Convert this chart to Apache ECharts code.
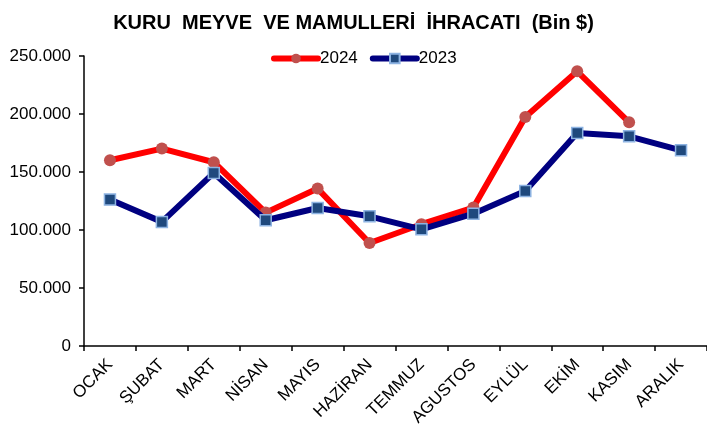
<!DOCTYPE html>
<html><head><meta charset="utf-8">
<script src="https://cdn.jsdelivr.net/npm/echarts@6/dist/echarts.min.js"></script>
<style>html,body{margin:0;padding:0;background:#fff}#c{width:707px;height:436px}</style>
</head><body><div id="c"></div>
<script>
const titleText = 'KURU  MEYVE  VE MAMULLERİ  İHRACATI  (Bin $)';
const months = ['OCAK','ŞUBAT','MART','NİSAN','MAYIS','HAZİRAN','TEMMUZ','AGUSTOS','EYLÜL','EKİM','KASIM','ARALIK'];
const data2024 = [160100, 170200, 158400, 115000, 135700, 88800, 105000, 119300, 197400, 236800, 192800, null];
const data2023 = [126200, 107000, 149200, 108400, 119000, 111800, 100600, 114100, 133600, 183600, 180800, 168700];
const yTicks = [0, 50000, 100000, 150000, 200000, 250000];

function fmt(v){ return v === 0 ? '0' : String(v).replace(/\B(?=(\d{3})+(?!\d))/g, '.'); }

const chart = echarts.init(document.getElementById('c'), null, {renderer:'canvas'});
const font = 'Liberation Sans, Arial, sans-serif';
chart.setOption({
  backgroundColor:'#fff',
  animation:false,
  title:{text:titleText, left:'center', top:8,
    textStyle:{fontFamily:'Liberation Sans, Arial', fontWeight:'bold', fontSize:20, color:'#000'}},
  legend:{top:45, left:266, itemWidth:44, itemHeight:12, itemGap:12,
    lineStyle:{width:6, cap:'round'},
    textStyle:{fontFamily:font, fontSize:17, color:'#000', padding:[0,0,0,-3]},
    data:['2024','2023']},
  grid:{left:84, right:-2, top:56, bottom:90},
  xAxis:{type:'category', data:months, boundaryGap:true,
    axisLine:{lineStyle:{color:'#000', width:1.5}},
    axisTick:{show:true, length:5, lineStyle:{color:'#000', width:1.5}},
    axisLabel:{rotate:45, fontFamily:font, fontSize:17, color:'#000', margin:16}},
  yAxis:{type:'value', min:0, max:250000, interval:50000,
    axisLine:{show:true, lineStyle:{color:'#000', width:1.5}},
    axisTick:{show:true, length:5, lineStyle:{color:'#000', width:1.5}},
    splitLine:{show:false},
    axisLabel:{fontFamily:font, fontSize:17, color:'#000', margin:13,
      formatter:function(v){ return yTicks.indexOf(v)>=0 ? fmt(v) : ''; }}},
  series:[
    {name:'2024', type:'line', data:data2024, symbol:'circle', symbolSize:12,
      lineStyle:{color:'#ff0000', width:6}, itemStyle:{color:'#c0504d', borderWidth:0}, color:'#ff0000',
      z:2},
    {name:'2023', type:'line', data:data2023, symbol:'rect', symbolSize:11,
      lineStyle:{color:'#000080', width:6}, itemStyle:{color:'#1f497d', borderColor:'#8db3e2', borderWidth:1.5}, color:'#000080',
      z:3}
  ]
});
</script></body></html>
